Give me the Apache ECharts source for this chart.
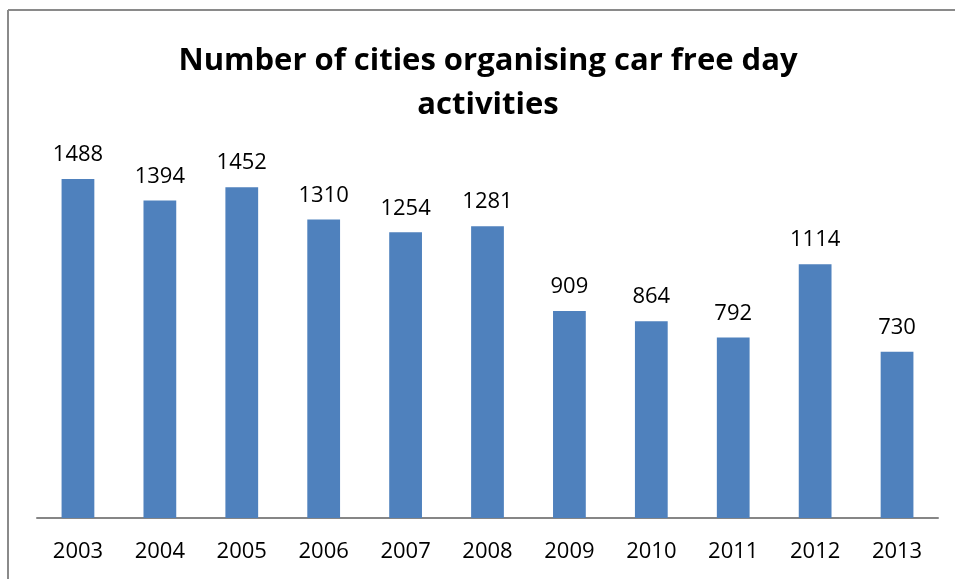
<!DOCTYPE html>
<html>
<head>
<meta charset="utf-8">
<script src="https://cdn.jsdelivr.net/npm/echarts@6/dist/echarts.min.js"></script>
<style>
html,body{margin:0;padding:0;background:#fff;}
#chart{width:955px;height:579px;}
</style>
</head>
<body>
<div id="chart"></div>
<script>
var years = ['2003','2004','2005','2006','2007','2008','2009','2010','2011','2012','2013'];
var cities = [1488,1394,1452,1310,1254,1281,909,864,792,1114,730];
var titleText = 'Number of cities organising car free day\nactivities';

var chart = echarts.init(document.getElementById('chart'));
chart.setOption({
  animation: false,
  backgroundColor: '#fff',
  title: {
    text: titleText,
    left: 483,
    textAlign: 'center',
    top: 34,
    textStyle: {
      fontFamily: 'Open Sans',
      fontWeight: 'bold',
      fontSize: 31,
      lineHeight: 44,
      color: '#000'
    }
  },
  grid: {left: 37, right: 17, top: 153.5, bottom: 61},
  xAxis: {
    type: 'category',
    data: years,
    axisLine: {lineStyle: {color: '#868686', width: 2}},
    axisTick: {show: false},
    axisLabel: {
      margin: 23,
      fontFamily: 'Open Sans',
      fontSize: 22,
      color: '#000'
    }
  },
  yAxis: {
    type: 'value',
    min: 0,
    max: 1600,
    show: false,
    splitLine: {show: false}
  },
  series: [{
    type: 'bar',
    data: cities,
    barWidth: '40%',
    itemStyle: {color: '#4F81BD'},
    label: {
      show: true,
      position: 'top',
      distance: 13,
      fontFamily: 'Open Sans',
      fontSize: 22,
      color: '#000'
    }
  }],
  graphic: [
    {type: 'line', shape: {x1: 8, y1: 10, x2: 955, y2: 10}, style: {stroke: '#8a8a8a', lineWidth: 2}},
    {type: 'line', shape: {x1: 8, y1: 10, x2: 8, y2: 579}, style: {stroke: '#8a8a8a', lineWidth: 2}}
  ]
});
</script>
</body>
</html>
